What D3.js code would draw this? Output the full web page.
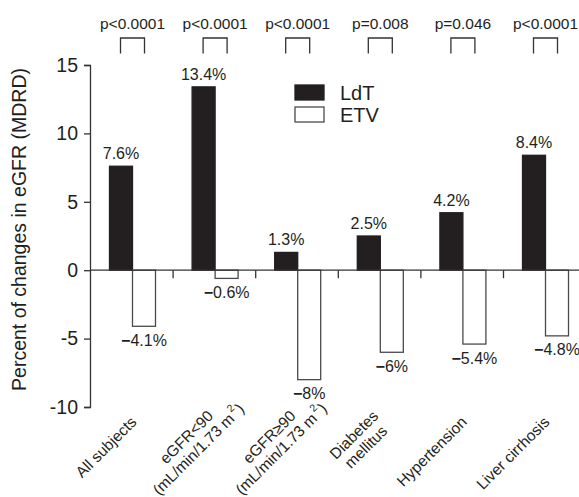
<!DOCTYPE html>
<html>
<head>
<meta charset="utf-8">
<script src="https://cdn.jsdelivr.net/npm/d3@7"></script>
<style>
  html, body { margin: 0; padding: 0; background: #fff; }
  svg { display: block; font-family: "Liberation Sans", Arial, Helvetica, sans-serif; }
</style>
</head>
<body>
<svg id="chart" width="579" height="497"></svg>
<script>
// ---- Data ----
const categories = ["All subjects", "eGFR<90", "eGFR≥90", "Diabetes mellitus", "Hypertension", "Liver cirrhosis"];
const categoryLines = [
  ["All subjects"],
  ["eGFR<90", "(mL/min/1.73 m²)"],
  ["eGFR≥90", "(mL/min/1.73 m²)"],
  ["Diabetes", "mellitus"],
  ["Hypertension"],
  ["Liver cirrhosis"]
];
const seriesNames = ["LdT", "ETV"];
const ldtValues = [7.6, 13.4, 1.3, 2.5, 4.2, 8.4];
const etvValues = [-4.1, -0.6, -8, -6, -5.4, -4.8];
const ldtLabels = ["7.6%", "13.4%", "1.3%", "2.5%", "4.2%", "8.4%"];
const etvLabels = ["−4.1%", "−0.6%", "−8%", "−6%", "−5.4%", "−4.8%"];
const pValues = ["p<0.0001", "p<0.0001", "p<0.0001", "p=0.008", "p=0.046", "p<0.0001"];
const yTicks = [-10, -5, 0, 5, 10, 15];
const yTitle = "Percent of changes in eGFR (MDRD)";

// ---- Setup ----
const ink = "#231f20";
const svg = d3.select("#chart");

const x0 = d3.scaleBand().domain(categories).range([90.5, 586.1]).padding(0);
const x1 = d3.scaleBand().domain(seriesNames).range([19, 65]).padding(0);
const y = d3.scaleLinear().domain([-10, 15]).range([407, 65]);
const splitX = c => x0(c) + x1("ETV");

const series = [
  { name: "LdT", values: ldtValues, labels: ldtLabels },
  { name: "ETV", values: etvValues, labels: etvLabels }
];

// ---- Bars ----
series.forEach(s => {
  svg.append("g").selectAll("rect")
    .data(categories.map((c, i) => ({ c, v: s.values[i] })))
    .join("rect")
    .attr("x", d => x0(d.c) + x1(s.name))
    .attr("width", x1.bandwidth())
    .attr("y", d => y(Math.max(0, d.v)))
    .attr("height", d => Math.abs(y(d.v) - y(0)))
    .attr("fill", s.name === "LdT" ? ink : "#fff")
    .attr("stroke", s.name === "LdT" ? ink : "#4a4a4a")
    .attr("stroke-width", 1.3);
});

// ---- Y axis ----
const yAxis = d3.axisLeft(y)
  .tickValues(yTicks)
  .tickSize(6)
  .tickSizeOuter(6)
  .tickPadding(6)
  .tickFormat(d => (d < 0 ? "-" + Math.abs(d) : String(d)));
const yg = svg.append("g").attr("transform", "translate(90,0)").call(yAxis);
yg.select(".domain").attr("stroke", "#333").attr("stroke-width", 1.3);
yg.selectAll(".tick line").attr("stroke", "#333").attr("stroke-width", 1.3);
yg.selectAll(".tick text").attr("fill", ink).attr("font-size", 19.5)
  .attr("font-family", "'Liberation Sans', Arial, sans-serif");

// ---- X axis (zero line with group-boundary ticks) ----
svg.append("line")
  .attr("x1", 90).attr("x2", x0.range()[1])
  .attr("y1", y(0)).attr("y2", y(0))
  .attr("stroke", "#333").attr("stroke-width", 1.3);
svg.append("g").selectAll("line")
  .data(categories.slice(1))
  .join("line")
  .attr("x1", c => x0(c)).attr("x2", c => x0(c))
  .attr("y1", y(0)).attr("y2", y(0) + 8)
  .attr("stroke", "#333").attr("stroke-width", 1.3);

// ---- Value labels ----
series.forEach(s => {
  svg.append("g").selectAll("text")
    .data(categories.map((c, i) => ({ c, v: s.values[i], t: s.labels[i] })))
    .join("text")
    .attr("x", d => x0(d.c) + x1(s.name) + x1.bandwidth() / 2)
    .attr("y", d => d.v >= 0 ? y(d.v) - 7 : y(d.v) + 19.5)
    .attr("text-anchor", "middle")
    .attr("font-size", 16)
    .attr("fill", ink)
    .each(function(d) {
      const el = d3.select(this);
      if (d.t.startsWith("−")) {
        el.append("tspan").attr("font-weight", "bold").text("−");
        el.append("tspan").text(d.t.slice(1));
      } else {
        el.text(d.t);
      }
    });
});

// ---- p-values and brackets ----
categories.forEach((c, i) => {
  const cx = splitX(c);
  svg.append("text")
    .attr("x", cx).attr("y", 29)
    .attr("text-anchor", "middle")
    .attr("font-size", 15.5)
    .attr("fill", ink)
    .text(pValues[i]);
  svg.append("path")
    .attr("d", `M${cx - 12},53.5V38H${cx + 12}V53.5`)
    .attr("fill", "none")
    .attr("stroke", "#333")
    .attr("stroke-width", 1.3);
});

// ---- Category labels (rotated) ----
function writeLine(textSel, str) {
  const idx = str.indexOf("²");
  if (idx < 0) { textSel.text(str); return; }
  textSel.append("tspan").text(str.slice(0, idx));
  textSel.append("tspan").attr("font-size", 10.5).attr("dy", -8).attr("dx", 2).text("2");
  textSel.append("tspan").attr("dy", 8).attr("dx", 1).text(str.slice(idx + 1));
}
const lh = 17;
const catFont = 15.5;
categories.forEach((c, i) => {
  const lines = categoryLines[i];
  const n = lines.length;
  const g = svg.append("g")
    .attr("transform", `translate(${splitX(c) + 5},423) rotate(-45)`);
  const tmp = g.append("text").attr("font-size", catFont).text(lines[0]);
  const w1 = tmp.node().getComputedTextLength();
  tmp.remove();
  lines.forEach((ln, j) => {
    const t = g.append("text")
      .attr("x", -w1 / 2)
      .attr("y", (j - (n - 1) / 2) * lh)
      .attr("text-anchor", "middle")
      .attr("font-size", catFont)
      .attr("fill", ink);
    writeLine(t, ln);
  });
});

// ---- Legend ----
const legend = svg.append("g");
seriesNames.forEach((s, i) => {
  legend.append("rect")
    .attr("x", 295).attr("y", 85 + i * 22)
    .attr("width", 29).attr("height", 15)
    .attr("fill", s === "LdT" ? ink : "#fff")
    .attr("stroke", s === "LdT" ? ink : "#4a4a4a")
    .attr("stroke-width", 1.3);
  legend.append("text")
    .attr("x", 340).attr("y", 100 + i * 22)
    .attr("font-size", 20)
    .attr("fill", ink)
    .text(s);
});

// ---- Y title ----
svg.append("text")
  .attr("transform", "translate(26,229.5) rotate(-90)")
  .attr("text-anchor", "middle")
  .attr("font-size", 19.5)
  .attr("fill", ink)
  .text(yTitle);
</script>
</body>
</html>
